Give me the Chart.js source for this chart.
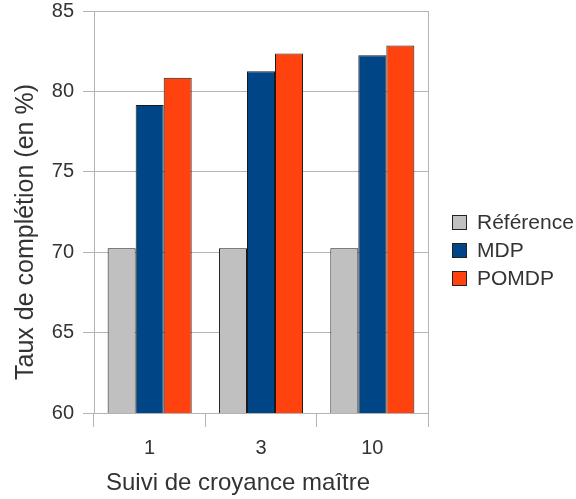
<!DOCTYPE html>
<html lang="fr">
<head>
<meta charset="utf-8">
<title>Taux de complétion</title>
<script src="https://cdn.jsdelivr.net/npm/chart.js@4"></script>
<style>
  html, body { margin: 0; padding: 0; background: #fff; }
  #wrap { width: 576px; height: 499px; position: relative; }
</style>
</head>
<body>
<div id="wrap"><canvas id="graf"></canvas></div>
<script>
// Données
const categories = ['1', '3', '10'];
const reference = [70.25, 70.25, 70.25];
const mdp = [79.15, 81.25, 82.25];
const pomdp = [80.85, 82.35, 82.85];
const yTicks = [60, 65, 70, 75, 80, 85];
const titreX = 'Suivi de croyance maître';
const titreY = 'Taux de complétion (en %)';

const gris = '#b3b3b3';
const texte = '#333333';
const police = 'Liberation Sans, Arial, sans-serif';

// Bordure droite, titres des axes et légende
const cadreEtLegende = {
    id: 'cadreEtLegende',
    afterDatasetsDraw(chart) {
        const { ctx, chartArea } = chart;
        ctx.save();
        ctx.strokeStyle = gris;
        ctx.lineWidth = 1;
        ctx.beginPath();
        ctx.moveTo(Math.round(chartArea.right) + 0.5, chartArea.top);
        ctx.lineTo(Math.round(chartArea.right) + 0.5, chartArea.bottom);
        ctx.stroke();

        ctx.fillStyle = texte;
        ctx.textAlign = 'center';
        ctx.textBaseline = 'alphabetic';

        // titre de l'axe X
        ctx.font = '24px ' + police;
        ctx.fillText(titreX, 238, 490);

        // titre de l'axe Y
        ctx.save();
        ctx.translate(33, 232);
        ctx.rotate(-Math.PI / 2);
        ctx.font = '25px ' + police;
        ctx.fillText(titreY, 0, 0);
        ctx.restore();

        // légende
        ctx.font = '21px ' + police;
        ctx.textAlign = 'left';
        ctx.textBaseline = 'middle';
        chart.data.datasets.forEach((ds, i) => {
            const y = 222 + i * 28;
            ctx.fillStyle = ds.backgroundColor;
            ctx.fillRect(452, y - 7, 15, 15);
            ctx.strokeStyle = '#222';
            ctx.strokeRect(452.5, y - 6.5, 14, 14);
            ctx.fillStyle = texte;
            ctx.fillText(ds.label, 477, y + 1);
        });
        ctx.restore();
    }
};

const dataset = (label, data, couleur) => ({
    label,
    data,
    backgroundColor: couleur,
    borderColor: '#1a1a1a',
    borderWidth: 1,
    borderSkipped: false,
    categoryPercentage: 0.755,
    barPercentage: 1.0
});

new Chart(document.getElementById('graf').getContext('2d'), {
    type: 'bar',
    data: {
        labels: categories,
        datasets: [
            dataset('Référence', reference, '#c0c0c0'),
            dataset('MDP', mdp, '#004586'),
            dataset('POMDP', pomdp, '#ff420e')
        ]
    },
    options: {
        responsive: true,
        maintainAspectRatio: false,
        animation: false,
        layout: { padding: { top: 11, right: 148, left: 0, bottom: 0 } },
        plugins: {
            legend: { display: false },
            tooltip: { enabled: false }
        },
        scales: {
            x: {
                offset: true,
                grid: {
                    offset: true,
                    drawOnChartArea: false,
                    color: gris,
                    tickLength: 14
                },
                border: { color: gris },
                ticks: {
                    color: texte,
                    font: { family: police, size: 20 },
                    padding: 9
                },
                afterFit(scale) {
                    scale.height = 86;
                    scale.paddingLeft = 0;
                    scale.paddingRight = 0;
                }
            },
            y: {
                min: 60,
                max: 85,
                afterBuildTicks(scale) {
                    scale.ticks = yTicks.map(v => ({ value: v }));
                },
                grid: {
                    color: gris,
                    tickLength: 11
                },
                border: { color: gris },
                ticks: {
                    color: texte,
                    font: { family: police, size: 20 },
                    padding: 9
                },
                afterFit(scale) {
                    scale.width = 94;
                    scale.paddingTop = 0;
                    scale.paddingBottom = 0;
                }
            }
        }
    },
    plugins: [cadreEtLegende]
});
</script>
</body>
</html>
